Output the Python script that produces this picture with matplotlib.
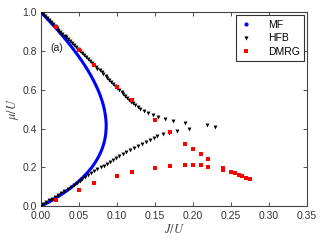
import matplotlib
matplotlib.use('Agg')
import matplotlib.pyplot as plt
from matplotlib.lines import Line2D

plt.rcParams['font.family'] = ['Liberation Sans', 'DejaVu Sans']
plt.rcParams['mathtext.fontset'] = 'stix'

# mean-field lobe boundary
mf_mu = [0.000, 0.025, 0.050, 0.075, 0.100, 0.125, 0.150, 0.175, 0.200, 0.225,
         0.250, 0.275, 0.300, 0.325, 0.350, 0.375, 0.400, 0.425, 0.450, 0.475,
         0.500, 0.525, 0.550, 0.575, 0.600, 0.625, 0.650, 0.675, 0.700, 0.725,
         0.750, 0.775, 0.800, 0.825, 0.850, 0.875, 0.900, 0.925, 0.950, 0.975, 1.000]
mf_J = [0.0000, 0.0119, 0.0226, 0.0323, 0.0409, 0.0486, 0.0554, 0.0614, 0.0667, 0.0712,
        0.0750, 0.0782, 0.0808, 0.0828, 0.0843, 0.0852, 0.0857, 0.0858, 0.0853, 0.0845,
        0.0833, 0.0818, 0.0798, 0.0776, 0.0750, 0.0721, 0.0689, 0.0655, 0.0618, 0.0578,
        0.0536, 0.0491, 0.0444, 0.0396, 0.0345, 0.0292, 0.0237, 0.0180, 0.0122, 0.0062, 0.0000]

# HFB, lower branch (mu = 0.00 ... 0.40)
hfb_mu_low = [0.00, 0.01, 0.02, 0.03, 0.04, 0.05, 0.06, 0.07, 0.08, 0.09,
              0.10, 0.11, 0.12, 0.13, 0.14, 0.15, 0.16, 0.17, 0.18, 0.19,
              0.20, 0.21, 0.22, 0.23, 0.24, 0.25, 0.26, 0.27, 0.28, 0.29,
              0.30, 0.31, 0.32, 0.33, 0.34, 0.35, 0.36, 0.37, 0.38, 0.39, 0.40]
hfb_J_low = [0.000, 0.003, 0.007, 0.010, 0.014, 0.018, 0.022, 0.026, 0.030, 0.035,
             0.039, 0.043, 0.047, 0.051, 0.054, 0.058, 0.062, 0.066, 0.070, 0.074,
             0.079, 0.083, 0.087, 0.091, 0.095, 0.099, 0.103, 0.108, 0.112, 0.117,
             0.123, 0.128, 0.133, 0.138, 0.143, 0.148, 0.153, 0.160, 0.168, 0.179, 0.195]

# HFB, upper branch (mu = 1.00 ... 0.41)
hfb_mu_up = [1.00, 0.99, 0.98, 0.97, 0.96, 0.95, 0.94, 0.93, 0.92, 0.91,
             0.90, 0.89, 0.88, 0.87, 0.86, 0.85, 0.84, 0.83, 0.82, 0.81,
             0.80, 0.79, 0.78, 0.77, 0.76, 0.75, 0.74, 0.73, 0.72, 0.71,
             0.70, 0.69, 0.68, 0.67, 0.66, 0.65, 0.64, 0.63, 0.62, 0.61,
             0.60, 0.59, 0.58, 0.57, 0.56, 0.55, 0.54, 0.53, 0.52, 0.51,
             0.50, 0.49, 0.48, 0.47, 0.46, 0.45, 0.44, 0.43, 0.42, 0.41]
hfb_J_up = [0.000, 0.0026, 0.0051, 0.0077, 0.0103, 0.0128, 0.0154, 0.018, 0.0205, 0.023,
            0.0256, 0.028, 0.031, 0.033, 0.036, 0.038, 0.041, 0.044, 0.046, 0.049,
            0.051, 0.054, 0.057, 0.059, 0.062, 0.064, 0.067, 0.069, 0.072, 0.074,
            0.077, 0.080, 0.082, 0.085, 0.087, 0.090, 0.092, 0.095, 0.098, 0.100,
            0.103, 0.106, 0.108, 0.111, 0.113, 0.116, 0.119, 0.121, 0.124, 0.127,
            0.130, 0.135, 0.141, 0.147, 0.154, 0.163, 0.173, 0.189, 0.218, 0.229]

# DMRG points
dmrg_J = [0.02, 0.05, 0.07, 0.10, 0.12, 0.15, 0.17, 0.19, 0.20, 0.21, 0.22,
          0.02, 0.05, 0.07, 0.10, 0.12, 0.15, 0.17, 0.19, 0.20, 0.21, 0.22,
          0.24, 0.24, 0.25, 0.255, 0.26, 0.265, 0.27, 0.275]
dmrg_mu = [0.924, 0.807, 0.730, 0.617, 0.546, 0.445, 0.383, 0.323, 0.295, 0.268, 0.242,
           0.031, 0.084, 0.119, 0.158, 0.178, 0.199, 0.208, 0.211, 0.211, 0.213, 0.204,
           0.197, 0.187, 0.178, 0.170, 0.163, 0.155, 0.146, 0.139]

fig = plt.figure(figsize=(3.25, 2.45), dpi=100)
ax = fig.add_axes([0.126, 0.158, 0.819, 0.792])

ax.plot(mf_J, mf_mu, color='blue', lw=2.2, zorder=2)
ax.plot(hfb_J_low + hfb_J_up, hfb_mu_low + hfb_mu_up, 'v', color='black',
        ms=2.8, mew=0, zorder=3)
ax.plot(dmrg_J, dmrg_mu, 's', color='red', ms=3.2, mew=0, zorder=4)

ax.set_xlim(0, 0.35)
ax.set_ylim(0, 1.0)
ax.set_xticks([0.00, 0.05, 0.10, 0.15, 0.20, 0.25, 0.30, 0.35])
ax.set_yticks([0.0, 0.2, 0.4, 0.6, 0.8, 1.0])
ax.set_xticklabels(['0.00', '0.05', '0.10', '0.15', '0.20', '0.25', '0.30', '0.35'])
ax.set_yticklabels(['0.0', '0.2', '0.4', '0.6', '0.8', '1.0'])
ax.tick_params(direction='in', top=True, right=True, length=3, width=0.6,
               labelsize=7.5, colors='#333333')
ax.tick_params(axis='x', pad=3.5)
ax.tick_params(axis='y', pad=3)
for sp in ax.spines.values():
    sp.set_color('#444444')
    sp.set_linewidth(0.8)

ax.set_xlabel(r'$J/U$', fontsize=9, color='#444444', labelpad=1)
ax.set_ylabel(r'$\mu/U$', fontsize=9, color='#444444', labelpad=1)
ax.text(0.012, 0.815, '(a)', fontsize=7.5, va='center', color='#222222')

handles = [
    Line2D([], [], ls='none', marker='o', color='blue', ms=3, mew=0),
    Line2D([], [], ls='none', marker='v', color='black', ms=3, mew=0),
    Line2D([], [], ls='none', marker='s', color='red', ms=3, mew=0),
]
leg = ax.legend(handles, ['MF', 'HFB', 'DMRG'], loc='upper right', fontsize=7.5,
                fancybox=False, framealpha=1, edgecolor='#333333',
                borderaxespad=0.3, handletextpad=1.5, labelspacing=0.35,
                handlelength=1.2, borderpad=0.4)
leg.get_frame().set_linewidth(0.8)

fig.savefig('out.png', dpi=100)
